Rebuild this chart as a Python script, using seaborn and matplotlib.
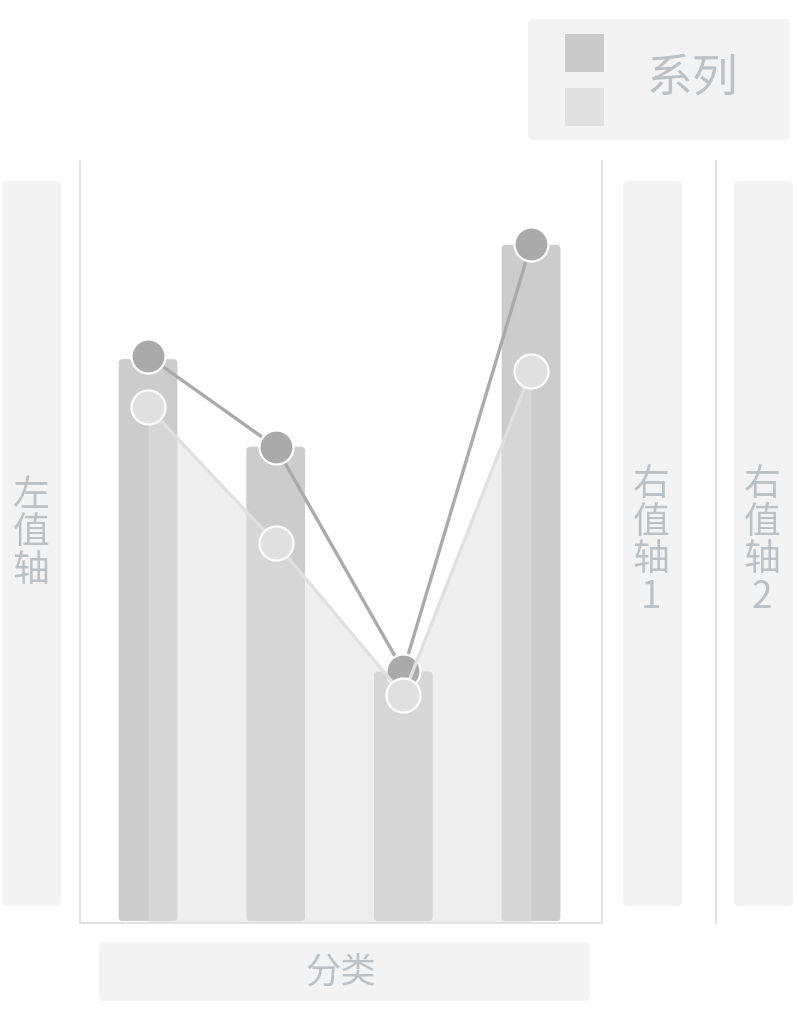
import numpy as np
import pandas as pd
import seaborn as sns
import matplotlib.pyplot as plt
from matplotlib.patches import FancyBboxPatch, Rectangle

W, H = 798, 1020

categories = ['A', 'B', 'C', 'D']
bar_values = [74, 62.5, 33, 89]
dark_line = [74.4, 62.5, 33.1, 89.1]
light_line = [67.7, 49.9, 29.9, 72.4]

sns.set_theme(style='white')
plt.rcParams['font.family'] = ['Noto Sans CJK SC', 'DejaVu Sans']

TEXT_C = '#bcc1c6'
BOX_C = '#f3f3f3'

fig = plt.figure(figsize=(W / 100, H / 100), dpi=100)


def px_box(x0, y0, x1, y1, color, r=5):
    # rectangle given in pixel coords (top-left origin), drawn in figure coords
    w, h = (x1 - x0) / W, (y1 - y0) / H
    p = FancyBboxPatch((x0 / W, 1 - y1 / H), w, h,
                       boxstyle=f'round,pad=0,rounding_size={r / W}',
                       mutation_aspect=W / H, transform=fig.transFigure,
                       facecolor=color, edgecolor='none', zorder=0)
    fig.patches.append(p)


def px_text(x, y, s, size, **kw):
    fig.text(x / W, 1 - y / H, s, ha='center', va='center', fontsize=size,
             color=TEXT_C, **kw)


# main axes
ax = fig.add_axes([80 / W, 1 - 924 / H, (602 - 80) / W, (924 - 162) / H])
df = pd.DataFrame({'cat': categories, 'bar': bar_values})
sns.barplot(data=df, x='cat', y='bar', color='#cccccc', width=0.46,
            saturation=1, ax=ax, zorder=1)

# rounded bar corners
xlim = (-0.533, 3.556)
ylim = (0, 100)
sx = (602 - 80) / (xlim[1] - xlim[0])
sy = (924 - 162) / (ylim[1] - ylim[0])
for p in list(ax.patches):
    x0, y0 = p.get_x(), p.get_y()
    w, h = p.get_width(), p.get_height()
    p.remove()
    rb = FancyBboxPatch((x0, y0 + 0.25), w, h - 0.25,
                        boxstyle=f'round,pad=0,rounding_size={4 / sx}',
                        mutation_aspect=sx / sy,
                        facecolor='#cccccc', edgecolor='none', zorder=1)
    ax.add_patch(rb)

xs = np.arange(len(categories))
ax.fill_between(xs, light_line, color='#e0e0e0', alpha=0.55, lw=0, zorder=2)

sns.lineplot(x=xs, y=dark_line, color='#aaaaaa', lw=2.4, marker='o',
             markersize=24.5, markeredgecolor='white', markeredgewidth=1.6,
             ax=ax, zorder=3)
sns.lineplot(x=xs, y=light_line, color='#e0e0e0', lw=2.4, marker='o',
             markersize=24.5, markeredgecolor='white', markeredgewidth=1.6,
             ax=ax, zorder=4)

ax.set_xlim(*xlim)
ax.set_ylim(*ylim)
ax.set_xticks([])
ax.set_yticks([])
ax.set_xlabel('')
ax.set_ylabel('')
ax.set_facecolor('none')
for side in ['left', 'bottom', 'right']:
    ax.spines[side].set_visible(True)
    ax.spines[side].set_color('#dddddd')
    ax.spines[side].set_linewidth(1.2)
    ax.spines[side].set_zorder(5)
ax.spines['top'].set_visible(False)

# second right axis line
ax2 = ax.twinx()
ax2.set_ylim(*ylim)
ax2.set_yticks([])
for side in ['left', 'bottom', 'top']:
    ax2.spines[side].set_visible(False)
ax2.spines['right'].set_position(('axes', (716 - 80) / (602 - 80)))
ax2.spines['right'].set_color('#dddddd')
ax2.spines['right'].set_linewidth(1.2)

# axis title placeholders
px_box(2, 182, 61, 907, BOX_C)
px_text(31, 533, '左\n值\n轴', 26.5, linespacing=0.95)
px_box(623, 182, 682, 907, BOX_C)
px_text(651, 541, '右\n值\n轴\n1', 26.5, linespacing=0.95)
px_box(734, 182, 793, 907, BOX_C)
px_text(762, 541, '右\n值\n轴\n2', 26.5, linespacing=0.95)
px_box(99, 943, 590, 1002, BOX_C)
px_text(341, 973, '分类', 25.5)

# legend placeholder
px_box(528, 20, 790, 141, BOX_C)
fig.patches.append(Rectangle((565 / W, 1 - 73 / H), 39 / W, 38 / H,
                             transform=fig.transFigure, facecolor='#cacaca',
                             edgecolor='none', zorder=1))
fig.patches.append(Rectangle((565 / W, 1 - 127 / H), 39 / W, 38 / H,
                             transform=fig.transFigure, facecolor='#e0e0e0',
                             edgecolor='none', zorder=1))
px_text(693, 78, '系列', 33)

fig.savefig('out.png', dpi=100)
